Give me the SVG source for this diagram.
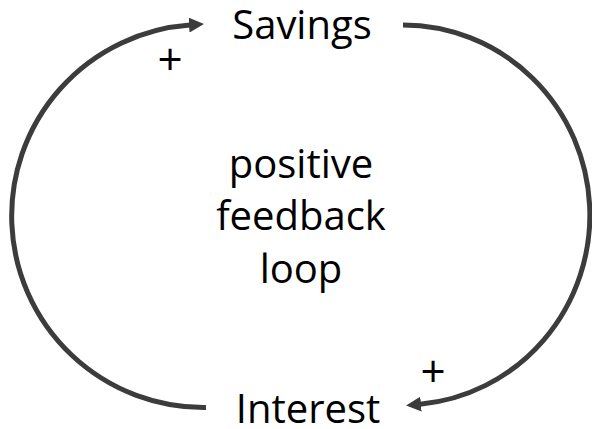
<svg xmlns="http://www.w3.org/2000/svg" width="592" height="429" viewBox="0 0 592 429">
<style>
  .lbl { font-family: "Open Sans", "Liberation Sans", sans-serif; font-size: 40px; fill: #000; text-anchor: middle; }
  .sign { font-family: "Open Sans", "Liberation Sans", sans-serif; font-size: 44px; fill: #000; text-anchor: middle; }
  .link { fill: none; stroke: #3c3c3c; stroke-width: 5; marker-end: url(#arrow); }
</style>
<defs>
  <marker id="arrow" markerUnits="userSpaceOnUse" markerWidth="16" markerHeight="15" refX="1" refY="7.5" orient="auto">
    <path d="M0,0 L15,7.5 L0,15 z" fill="#3c3c3c"/>
  </marker>
</defs>
<rect width="592" height="429" fill="#ffffff"/>
<g id="connectors">
  <path class="link" d="M 206 407.5 A 192 191.5 0 0 1 190 25"/>
  <path class="link" d="M 403 25 A 187 190 0 0 1 420 404.2"/>
</g>
<g id="savings">
  <text class="lbl" x="302" y="39">Savings</text>
</g>
<g id="interest">
  <text class="lbl" x="308" y="423">Interest</text>
</g>
<g id="loop-label">
  <text class="lbl" x="301" y="178">positive</text>
  <text class="lbl" x="301" y="230">feedback</text>
  <text class="lbl" x="301" y="283">loop</text>
</g>
<g id="signs">
  <text class="sign" x="170" y="75">+</text>
  <text class="sign" x="433" y="387">+</text>
</g>
</svg>
